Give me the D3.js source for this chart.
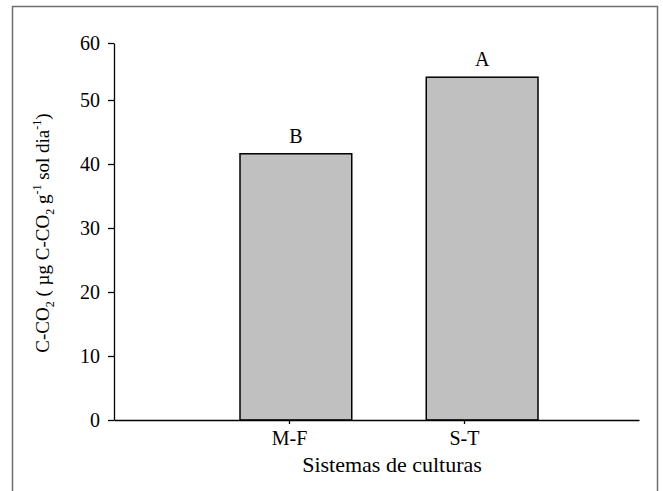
<!DOCTYPE html>
<html>
<head>
<meta charset="utf-8">
<script src="https://cdn.jsdelivr.net/npm/d3@7"></script>
<style>
  body { margin: 0; background: #fff; }
</style>
</head>
<body>
<script>
// data
var categories = ["M-F", "S-T"];
var values = [41.6, 54.0];
var letters = ["B", "A"];
var yTicks = [0, 10, 20, 30, 40, 50, 60];

var width = 663, height = 491;
var serif = "'Liberation Serif', 'DejaVu Serif', serif";

var svg = d3.select("body").append("svg")
    .attr("width", width)
    .attr("height", height)
    .style("font-family", serif);

// frame round the figure (bottom edge falls outside the picture)
svg.append("rect")
    .attr("x", 12.5).attr("y", 6.5)
    .attr("width", 645).attr("height", 500)
    .attr("fill", "none")
    .attr("stroke", "#6e6e6e")
    .attr("stroke-width", 1.5);

// y scale (top interval of the original is a bit compressed)
var yScale = d3.scaleLinear()
    .domain([0, 50, 60])
    .range([420, 100, 43]);

// x axis: positions 0..3, categories at 1 and 2
var xAxisScale = d3.scaleLinear()
    .domain([0, 3])
    .range([114, 639]);

// bars
var xBand = d3.scaleBand()
    .domain(categories)
    .range([240, 538])
    .paddingInner(0.4)
    .paddingOuter(0);

svg.selectAll("rect.bar")
    .data(values)
    .enter()
    .append("rect")
    .attr("class", "bar")
    .attr("x", function(d, i) { return xBand(categories[i]); })
    .attr("y", function(d) { return yScale(d); })
    .attr("width", xBand.bandwidth())
    .attr("height", function(d) { return yScale(0) - yScale(d); })
    .attr("fill", "#c0c0c0")
    .attr("stroke", "#000")
    .attr("stroke-width", 1.5);

// significance letters
svg.selectAll("text.letter")
    .data(values)
    .enter()
    .append("text")
    .attr("class", "letter")
    .attr("x", function(d, i) { return xBand(categories[i]) + xBand.bandwidth() / 2; })
    .attr("y", function(d) { return yScale(d) - 11; })
    .attr("text-anchor", "middle")
    .style("font-family", serif)
    .style("font-size", "20px")
    .text(function(d, i) { return letters[i]; });

// y axis
var yAxis = d3.axisLeft(yScale)
    .tickValues(yTicks)
    .tickSize(6)
    .tickSizeOuter(0)
    .tickPadding(8);
var yAxisGroup = svg.append("g")
    .attr("transform", "translate(114,0)")
    .call(yAxis);

// x axis
var xAxis = d3.axisBottom(xAxisScale)
    .tickValues([1, 2])
    .tickFormat(function(d) { return categories[d - 1]; })
    .tickSize(4)
    .tickSizeOuter(0)
    .tickPadding(7);
var xAxisGroup = svg.append("g")
    .attr("transform", "translate(0,420)")
    .call(xAxis);

[yAxisGroup, xAxisGroup].forEach(function(g) {
    g.attr("font-family", null).attr("font-size", null);
    g.selectAll("path, line").attr("stroke", "#000").attr("stroke-width", 1.3);
    g.selectAll("text")
        .attr("fill", "#000")
        .style("font-family", serif)
        .style("font-size", "20px");
});
yAxisGroup.selectAll("text").attr("dy", "0.34em");

// x title
svg.append("text")
    .attr("x", 392)
    .attr("y", 472)
    .attr("text-anchor", "middle")
    .style("font-family", serif)
    .style("font-size", "22px")
    .text("Sistemas de culturas");

// y title with sub/superscripts
var yTitle = svg.append("text")
    .attr("transform", "translate(49,233) rotate(-90)")
    .attr("text-anchor", "middle")
    .style("font-family", serif)
    .style("font-size", "19px");
yTitle.append("tspan").text("C-CO");
yTitle.append("tspan").attr("dy", 5).style("font-size", "12px").text("2");
yTitle.append("tspan").attr("dy", -5).text(" ( \u00b5g C-CO");
yTitle.append("tspan").attr("dy", 5).style("font-size", "12px").text("2");
yTitle.append("tspan").attr("dy", -5).text(" g");
yTitle.append("tspan").attr("dy", -8).style("font-size", "12px").text("-1");
yTitle.append("tspan").attr("dy", 8).text(" sol dia");
yTitle.append("tspan").attr("dy", -8).style("font-size", "12px").text("-1");
yTitle.append("tspan").attr("dy", 8).text(")");
</script>
</body>
</html>
